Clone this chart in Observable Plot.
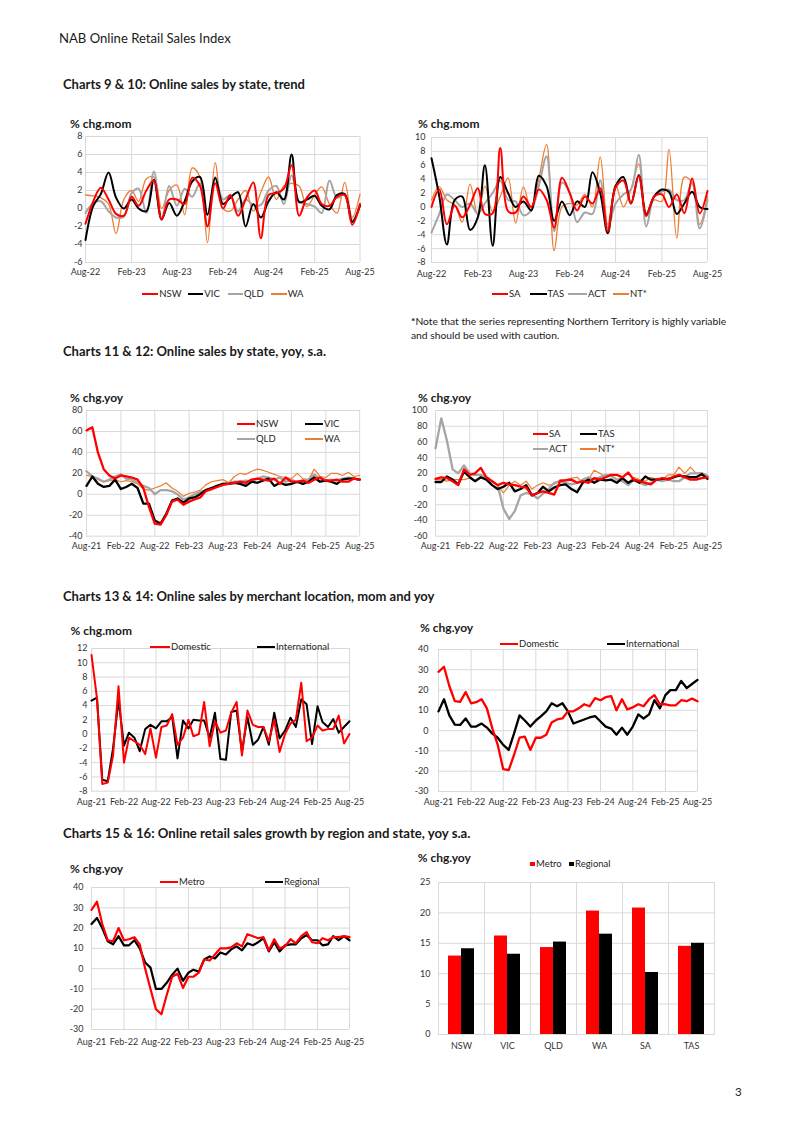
<!DOCTYPE html>
<html><head><meta charset="utf-8">
<script src="https://cdn.jsdelivr.net/npm/d3@7"></script>
<script src="https://cdn.jsdelivr.net/npm/@observablehq/plot@0.6"></script>
<style>
html,body{margin:0;padding:0;background:#fff;}
#page{position:relative;width:800px;height:1130px;overflow:hidden;font-family:Lato,"Open Sans",sans-serif;color:#1a1a1a;}
.t{position:absolute;white-space:nowrap;}
.sw{position:absolute;}
</style></head><body><div id="page"></div>
<script>
// ---------- categories / tick labels ----------
const ticksA = ["Aug-22","Feb-23","Aug-23","Feb-24","Aug-24","Feb-25","Aug-25"];
const ticksB = ["Aug-21","Feb-22","Aug-22","Feb-23","Aug-23","Feb-24","Aug-24","Feb-25","Aug-25"];
const startA = "Aug-22", startB = "Aug-21", endMonth = "Aug-25";
const states = ["NSW","VIC","QLD","WA","SA","TAS"];
const barSeries = ["Metro","Regional"];

// ---------- Charts 9: trend mom (Aug-22..Aug-25) ----------
const nswMom = [-1.7,0.8,2.3,1.0,-0.6,-0.8,1.3,0.3,2.0,3.1,-1.2,1.0,1.0,0.5,3.4,2.5,-2.0,2.8,0.0,1.5,-0.8,1.0,2.9,-3.3,1.5,1.7,2.2,4.8,-0.8,1.2,2.0,0.5,0.3,1.3,1.5,-1.8,0.5];
const vicMom = [-3.5,0.3,1.6,4.0,1.2,0.0,1.0,0.0,-0.3,3.2,-1.2,0.6,-0.8,0.8,3.0,3.5,-0.7,3.4,0.5,1.2,1.8,-2.0,0.5,-1.0,0.8,1.8,1.0,6.0,0.7,1.0,1.4,0.3,-0.1,1.5,1.6,-1.5,0.3];
const qldMom = [-0.5,0.6,0.8,-0.3,-1.0,-0.9,1.7,2.2,-0.5,4.1,-1.3,2.5,0.3,2.2,1.3,2.8,-2.0,3.5,1.0,1.5,-0.3,1.0,0.4,0.4,2.0,2.5,0.5,3.7,0.8,0.5,0.2,-0.5,3.1,1.2,1.5,-1.3,0.5];
const waMom  = [1.5,1.4,1.2,0.5,-2.8,1.0,2.0,0.8,3.3,3.5,0.0,2.0,2.6,-0.7,4.5,3.5,-3.8,5.1,0.0,-0.3,1.0,2.0,-0.3,1.8,3.5,1.0,2.5,2.8,2.5,0.2,1.5,2.4,0.5,-0.5,2.9,-1.0,1.6];
// ---------- Chart 10 ----------
const saMom  = [0.0,2.5,-2.5,0.2,-1.5,0.3,2.7,-1.0,-0.9,8.5,-0.6,-0.8,1.5,0.0,2.5,1.0,-3.0,4.2,2.0,-0.5,1.5,0.5,2.7,-3.5,2.8,3.8,0.5,4.5,-1.3,1.5,1.8,0.0,1.8,-0.9,4.1,-0.9,2.3];
const tasMom = [7.0,1.5,-5.4,1.0,1.5,-3.3,-1.5,6.0,-5.6,4.3,2.0,0.0,0.8,-0.5,4.5,3.0,-2.0,0.8,-1.2,0.8,0.0,5.0,2.0,-3.8,3.0,4.3,0.5,4.6,-1.0,1.5,2.5,2.2,-1.0,0.5,2.2,0.0,-0.3];
const actMom = [-3.7,-1.0,1.8,1.0,0.0,0.5,-1.0,0.5,2.0,3.8,1.0,0.8,-1.2,-0.5,3.0,7.3,-3.5,3.5,2.0,-2.2,-0.8,-1.0,3.8,-3.0,0.5,1.8,2.5,7.5,-2.8,1.5,2.2,2.5,1.0,1.0,3.5,-3.1,1.0];
const ntMom  = [1.0,2.9,1.0,0.3,-2.2,3.3,-1.2,3.0,-0.7,1.5,4.2,-2.3,2.9,-0.5,4.0,9.0,-6.3,0.0,0.5,0.3,1.8,0.0,7.2,-2.5,3.2,0.0,2.5,6.2,-1.3,1.0,0.8,8.3,-4.5,4.3,3.5,-2.5,1.5];
// ---------- Chart 11: yoy (Aug-21..Aug-25) ----------
const nswYoy = [61,64,40,24,18,15,18,17,16,14,6,-12,-28,-29,-20,-7,-5,-10,-7,-5,-3,3,5,7,9,10,11,12,11,14,15,14,13,15,10,16,12,12,13,11,14,16,13,13,14,12,12,15,14];
const vicYoy = [8,17,10,7,8,14,5,7,10,6,-9,-9,-25,-28,-19,-6,-4,-8,-4,-3,0,4,6,8,10,10,11,10,8,12,11,13,15,8,11,9,10,12,10,12,16,12,13,12,10,14,15,15,14];
const qldYoy = [22,17,15,12,14,17,19,15,14,11,8,6,0,4,4,3,0,-5,-3,0,2,4,6,8,10,11,12,12,13,12,15,17,16,14,16,12,14,11,13,14,19,15,13,14,13,15,16,15,14];
const waYoy  = [18,17,14,12,13,14,12,13,12,10,5,4,6,8,11,6,3,-2,1,2,4,9,12,13,14,11,17,20,19,22,24,23,21,19,17,16,15,20,15,14,24,17,16,20,20,18,21,17,18];
// ---------- Chart 12 ----------
const saYoy  = [13,15,14,10,5,25,18,20,27,15,10,5,8,6,5,3,2,-8,-5,-3,-5,-7,10,11,12,8,10,8,14,12,15,18,18,15,21,12,10,8,6,12,14,12,16,18,15,12,12,14,15];
const tasYoy = [9,9,16,12,6,22,15,10,15,12,5,0,3,8,-3,0,5,-8,-5,3,-3,2,5,6,0,-4,8,12,8,12,11,12,8,14,8,12,8,16,12,12,13,13,15,17,16,15,15,19,13];
const actYoy = [52,90,62,25,20,30,20,18,18,15,10,5,-25,-38,-28,-8,-5,-7,-12,-6,0,8,10,8,6,8,12,15,12,15,18,17,12,10,5,12,8,5,8,12,10,12,10,10,15,20,20,20,17];
const ntYoy  = [12,12,10,12,12,12,14,10,14,14,10,5,-5,5,10,5,10,0,5,8,5,6,12,12,14,15,8,12,24,20,15,18,12,15,8,15,12,10,15,12,12,18,18,28,20,28,20,21,17];
// ---------- Chart 13: merchant location mom ----------
const domMom = [11.1,5.0,-7.0,-6.8,-3.0,6.7,-4.0,-0.5,-1.0,-1.5,-2.8,0.8,-3.3,1.0,1.2,2.8,-1.5,-0.5,2.0,-0.3,0.0,4.5,-1.7,1.8,0.2,0.5,3.0,4.5,-3.0,3.3,1.3,1.0,1.0,-1.0,2.0,-2.5,0.0,1.5,2.0,7.2,-1.0,-0.5,1.2,0.5,0.7,0.7,2.6,-1.3,0.0];
const intMom = [4.7,5.1,-6.4,-6.6,-2.0,4.8,-1.6,0.2,-0.5,-2.4,0.7,1.3,0.8,1.8,1.8,2.4,-3.4,1.9,0.8,2.0,1.9,1.9,-0.5,3.0,-3.5,-3.6,3.1,3.3,-2.5,2.4,-1.5,-0.8,1.0,-1.5,3.0,-0.6,0.5,2.3,1.0,4.9,4.2,-1.4,3.9,1.7,1.0,2.1,0.2,1.0,1.8];
// ---------- Chart 14: merchant location yoy ----------
const domYoy = [29,31.5,22,14.5,14.2,19,13.5,14,15.5,11,1,-7,-19,-19.5,-12,-3.5,-3,-9.5,-3.5,-3.5,-2,4,5.5,6,9.5,9.5,11,13,12,16,15,16.5,17,10,15.5,10.5,11.5,13,12,15.5,17.5,13,13,12.5,12.5,15,14.5,15.8,14.5];
const intYoy = [9.5,15.5,7.5,3,2.8,6,2,2,3.5,1.5,-1.5,-3.5,-7,-9.5,-1.5,7.5,5,2,5,7,9.5,13.5,12,13.5,9.5,3.5,4.5,5.5,6.5,7.2,4.5,2,1,-2,1.5,-2,2,8,6,8,15,11,17.5,20,20,24.5,21,23,25];
// ---------- Chart 15: region yoy ----------
const metroYoy = [29,33,22,14,13.5,20,14,14.5,15.5,12,0,-10,-20,-22.5,-13,-4,-2.5,-9.5,-4,-4,-2,4.5,4,7,10,10,10.5,12.5,11,17,16,15,15.5,9,14.5,10,11,14.5,12.5,16,18,13,12.5,15,14,15.5,15.5,16,15.5];
const regionalYoy = [22,25,20,13.5,12,16,11.5,11.5,14,10,3,0.5,-10,-10,-7,-3,0,-6,-2,-0.5,-1.5,4.5,6,5,8,7,9.5,11,9,12.5,11.5,13,15,8.5,13,8.5,11.5,12,12,15,16.5,14,14,11.5,12,16,14,16,14];
// ---------- Chart 16: bars by state ----------
const metroBar = [12.9,16.2,14.3,20.3,20.8,14.5];
const regionalBar = [14.1,13.2,15.2,16.5,10.2,15.0];

// ---------- helpers ----------
const GRID = "#d9d9d9", RED = "#ff0000", BLACK = "#000000", GREY = "#a5a5a5", ORANGE = "#ed7d31";
const FONT = "Lato, 'Open Sans', sans-serif";
const parseM = d3.utcParse("%b-%y"), fmtM = d3.utcFormat("%b-%y");
const monthsFrom = (s) => d3.utcMonth.range(parseM(s), d3.utcMonth.offset(parseM(endMonth), 1));
const datesA = monthsFrom(startA), datesB = monthsFrom(startB);
const tickDatesA = ticksA.map(parseM), tickDatesB = ticksB.map(parseM);
const page = document.getElementById("page");

function txt(x, yc, s, size, opts = {}) {
  const d = document.createElement("div");
  d.className = "t";
  if (opts.html) d.innerHTML = s; else d.textContent = s;
  d.style.fontSize = size + "px";
  d.style.lineHeight = (size * 1.2) + "px";
  d.style.left = x + "px";
  d.style.top = (yc - size * 0.6) + "px";
  if (opts.weight) d.style.fontWeight = opts.weight;
  d.style.color = opts.color || "#1a1a1a";
  page.appendChild(d);
  return d;
}
function swLine(x0, x1, yc, color, th) {
  const d = document.createElement("div");
  d.className = "sw";
  d.style.left = x0 + "px"; d.style.width = (x1 - x0) + "px";
  d.style.top = (yc - th / 2) + "px"; d.style.height = th + "px";
  d.style.background = color;
  page.appendChild(d);
}
function swBox(x, yc, s, color) {
  const d = document.createElement("div");
  d.className = "sw";
  d.style.left = x + "px"; d.style.width = s + "px";
  d.style.top = (yc - s / 2) + "px"; d.style.height = s + "px";
  d.style.background = color;
  page.appendChild(d);
}
function legendLine(x0, x1, yc, color, th, label) {
  swLine(x0, x1, yc, color, th);
  txt(x1 + 1, yc, label, 9.5, {color: "#262626"});
}

function lineChart(c) {
  const mL = 40, mR = 26, mT = 6, mB = 24;
  const W = c.x1 - c.x0 + mL + mR, H = c.yBot - c.yTop + mT + mB;
  const marks = [
    Plot.ruleY(c.yTicks, {stroke: GRID, strokeWidth: 1}),
    Plot.ruleX(c.ticks, {stroke: GRID, strokeWidth: 1})
  ];
  for (const s of c.series) {
    const data = c.dates.map((d, i) => ({date: d, value: s.values[i]}));
    marks.push(Plot.line(data, {x: "date", y: "value", stroke: s.color, strokeWidth: s.width, curve: c.curve || "linear"}));
  }
  const svg = Plot.plot({
    width: W, height: H, marginLeft: mL, marginRight: mR, marginTop: mT, marginBottom: mB,
    style: {fontFamily: FONT, fontSize: "9px", color: "#333", background: "transparent", overflow: "visible"},
    x: {type: "utc", domain: [c.dates[0], c.dates[c.dates.length - 1]], ticks: c.ticks, tickFormat: fmtM, tickSize: 0, tickPadding: c.xPad, label: null},
    y: {domain: c.yDomain, ticks: c.yTicks, tickFormat: d => `${d}`, tickSize: 0, tickPadding: c.yPad, label: null},
    marks
  });
  svg.style.position = "absolute";
  svg.style.left = (c.x0 - mL) + "px";
  svg.style.top = (c.yTop - mT) + "px";
  page.appendChild(svg);
}
const rng = (a, b, s) => d3.range(a, b + s / 2, s);
const UNIT = 12; // size of the "% chg" unit labels

// ---------- page texts ----------
txt(59, 39, "NAB Online Retail Sales Index", 13.1);
txt(63, 85, "Charts 9 & 10: Online sales by state, trend", 13, {weight: 700});
txt(63, 352, "Charts 11 & 12: Online sales by state, yoy, s.a.", 13, {weight: 700});
txt(63, 597, "Charts 13 & 14: Online sales by merchant location, mom and yoy", 13, {weight: 700});
txt(63, 834, "Charts 15 & 16: Online retail sales growth by region and state, yoy s.a.", 13.2, {weight: 700});
txt(411, 321, "<b>*</b>Note that the series representing Northern Territory is highly variable", 10.3, {html: true});
txt(411, 335, "and should be used with caution.", 10.3);
txt(735, 1092, "3", 11.5);

// ---------- Chart 9 ----------
txt(70, 124, "% chg.mom", UNIT, {weight: 700});
lineChart({dates: datesA, ticks: tickDatesA, x0: 84.5, x1: 359, yTop: 135.7, yBot: 261.7,
  yDomain: [-6, 8], yTicks: rng(-6, 8, 2), yPad: 3, xPad: 6.5, curve: "catmull-rom",
  series: [{values: waMom, color: ORANGE, width: 1.3}, {values: qldMom, color: GREY, width: 2},
           {values: vicMom, color: BLACK, width: 2}, {values: nswMom, color: RED, width: 2}]});
legendLine(141.7, 158.3, 294, RED, 2.5, "NSW");
legendLine(187.7, 203.3, 294, BLACK, 2.5, "VIC");
legendLine(228, 243, 294, GREY, 2.5, "QLD");
legendLine(270.7, 286.7, 294, ORANGE, 1.5, "WA");

// ---------- Chart 10 ----------
txt(418, 124, "% chg.mom", UNIT, {weight: 700});
lineChart({dates: datesA, ticks: tickDatesA, x0: 430.7, x1: 706.7, yTop: 136.7, yBot: 261.7,
  yDomain: [-8, 10], yTicks: rng(-8, 10, 2), yPad: 6, xPad: 8, curve: "catmull-rom",
  series: [{values: ntMom, color: ORANGE, width: 1.3}, {values: actMom, color: GREY, width: 2},
           {values: tasMom, color: BLACK, width: 2}, {values: saMom, color: RED, width: 2}]});
legendLine(492, 508, 294, RED, 2.5, "SA");
legendLine(530, 546.5, 294, BLACK, 2.5, "TAS");
legendLine(568, 587, 294, GREY, 2.5, "ACT");
legendLine(613, 629, 294, ORANGE, 1.5, "NT*");

// ---------- Chart 11 ----------
txt(70, 398, "% chg.yoy", UNIT, {weight: 700});
lineChart({dates: datesB, ticks: tickDatesB, x0: 85.8, x1: 359, yTop: 410, yBot: 535.7,
  yDomain: [-40, 80], yTicks: rng(-40, 80, 20), yPad: 4, xPad: 6.5,
  series: [{values: waYoy, color: ORANGE, width: 1.2}, {values: qldYoy, color: GREY, width: 2.3},
           {values: vicYoy, color: BLACK, width: 2.3}, {values: nswYoy, color: RED, width: 2.3}]});
legendLine(236.7, 255, 424, RED, 2.5, "NSW");
legendLine(305, 323, 424, BLACK, 2.5, "VIC");
legendLine(236.7, 255, 439, GREY, 2.5, "QLD");
legendLine(305, 323, 439, ORANGE, 1.5, "WA");

// ---------- Chart 12 ----------
txt(418, 398, "% chg.yoy", UNIT, {weight: 700});
lineChart({dates: datesB, ticks: tickDatesB, x0: 435, x1: 707, yTop: 410, yBot: 535.7,
  yDomain: [-60, 100], yTicks: rng(-60, 100, 20), yPad: 8, xPad: 6.5,
  series: [{values: ntYoy, color: ORANGE, width: 1.2}, {values: actYoy, color: GREY, width: 2.3},
           {values: tasYoy, color: BLACK, width: 2.3}, {values: saYoy, color: RED, width: 2.3}]});
legendLine(533, 548, 434, RED, 2.5, "SA");
legendLine(580, 597, 434, BLACK, 2.5, "TAS");
legendLine(533, 548, 449, GREY, 2.5, "ACT");
legendLine(580, 597, 449, ORANGE, 1.5, "NT*");

// ---------- Chart 13 ----------
txt(70.5, 631, "% chg.mom", UNIT, {weight: 700});
lineChart({dates: datesB, ticks: tickDatesB, x0: 90.7, x1: 348.7, yTop: 648.3, yBot: 791,
  yDomain: [-8, 12], yTicks: rng(-8, 12, 2), yPad: 4, xPad: 7,
  series: [{values: intMom, color: BLACK, width: 2}, {values: domMom, color: RED, width: 2}]});
legendLine(150, 170, 647, RED, 2.2, "Domestic");
legendLine(256.7, 275, 647, BLACK, 2.2, "International");

// ---------- Chart 14 ----------
txt(420, 628, "% chg.yoy", UNIT, {weight: 700});
lineChart({dates: datesB, ticks: tickDatesB, x0: 438.3, x1: 697.3, yTop: 649, yBot: 791,
  yDomain: [-30, 40], yTicks: rng(-30, 40, 10), yPad: 10, xPad: 7,
  series: [{values: intYoy, color: BLACK, width: 2.3}, {values: domYoy, color: RED, width: 2.3}]});
legendLine(500, 518, 644, RED, 2.2, "Domestic");
legendLine(606.7, 625, 644, BLACK, 2.2, "International");

// ---------- Chart 15 ----------
txt(70, 869, "% chg.yoy", UNIT, {weight: 700});
lineChart({dates: datesB, ticks: tickDatesB, x0: 91, x1: 349, yTop: 887.3, yBot: 1029.3,
  yDomain: [-30, 40], yTicks: rng(-30, 40, 10), yPad: 8, xPad: 9,
  series: [{values: regionalYoy, color: BLACK, width: 2.2}, {values: metroYoy, color: RED, width: 2.2}]});
legendLine(160, 178, 882, RED, 2.2, "Metro");
legendLine(265, 283, 882, BLACK, 2.2, "Regional");

// ---------- Chart 16 ----------
txt(417.7, 858, "% chg.yoy", UNIT, {weight: 700});
swBox(530, 864, 4.5, RED); txt(536, 864, "Metro", 9.5, {color: "#262626"});
swBox(569, 864, 4.5, BLACK); txt(575, 864, "Regional", 9.5, {color: "#262626"});
{
  const barData = [];
  states.forEach((s, i) => {
    barData.push({state: s, series: barSeries[0], value: metroBar[i]});
    barData.push({state: s, series: barSeries[1], value: regionalBar[i]});
  });
  const x0 = 435, x1 = 716.7, yTop = 882.3, yBot = 1034.3;
  const mL = 30, mR = 6, mT = 6, mB = 24;
  const svg = Plot.plot({
    width: x1 - x0 + mL + mR, height: yBot - yTop + mT + mB,
    marginLeft: mL, marginRight: mR, marginTop: mT, marginBottom: mB,
    style: {fontFamily: FONT, fontSize: "9px", color: "#333", background: "transparent", overflow: "visible"},
    facet: {data: barData, x: "state"},
    fx: {domain: states, padding: 0, label: null, tickSize: 0, tickPadding: 8, axis: "bottom"},
    x: {domain: barSeries, paddingInner: 0, paddingOuter: 0.7, axis: null},
    y: {domain: [0, 25], ticks: [0, 5, 10, 15, 20, 25], tickSize: 0, tickPadding: 8, label: null},
    color: {domain: barSeries, range: [RED, BLACK]},
    marks: [
      Plot.ruleY([5, 10, 15, 20, 25], {stroke: GRID}),
      Plot.frame({stroke: GRID}),
      Plot.barY(barData, {x: "series", y: "value", fill: "series"})
    ]
  });
  svg.style.position = "absolute";
  svg.style.left = (x0 - mL) + "px";
  svg.style.top = (yTop - mT) + "px";
  page.appendChild(svg);
}
</script></body></html>
